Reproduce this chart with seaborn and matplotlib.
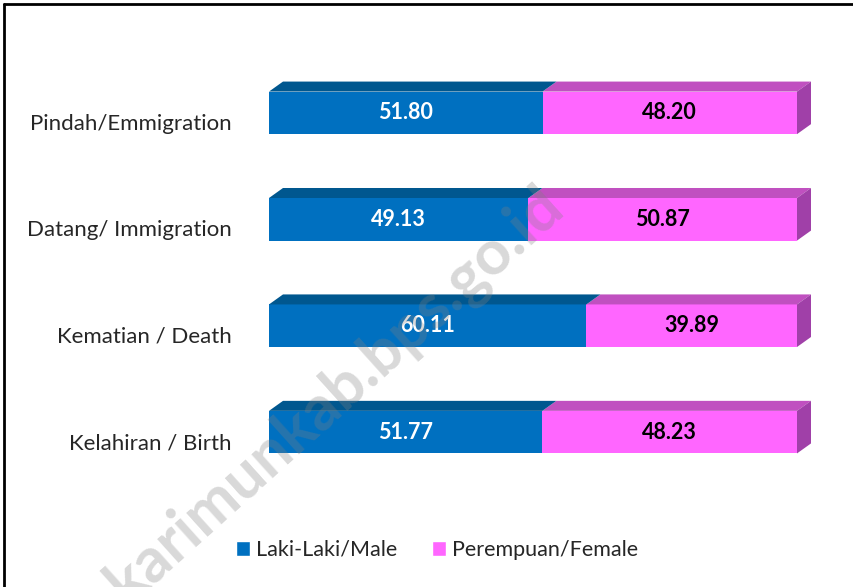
import numpy as np
import pandas as pd
import matplotlib.pyplot as plt
import seaborn as sns
from matplotlib.patches import Polygon, Patch
from matplotlib.transforms import ScaledTranslation

sns.set_style('white')
plt.rcParams['font.family'] = ['Lato', 'DejaVu Sans']

# data
kategori = ['Pindah/Emmigration', 'Datang/ Immigration', 'Kematian / Death', 'Kelahiran / Birth']
laki = [51.80, 49.13, 60.11, 51.77]
perempuan = [48.20, 50.87, 39.89, 48.23]
seri = ['Laki-Laki/Male', 'Perempuan/Female']

biru = '#0070C0'
biru_atas = '#00578F'
pink = '#FF66FF'
pink_atas = '#C050C0'
pink_samping = '#A040A8'

df = pd.DataFrame({'kategori': kategori, 'laki': laki, 'perempuan': perempuan})
df['total'] = df['laki'] + df['perempuan']

fig = plt.figure(figsize=(8.54, 5.87), dpi=100)
ax = fig.add_axes([269/854, (587-496)/587, 528/854, 447/587])

# layer belakang (total) lalu laki-laki di depan
sns.barplot(data=df, x='total', y='kategori', color=pink, orient='h', width=0.4,
            saturation=1, linewidth=0, ax=ax)
p_total = list(ax.patches)
sns.barplot(data=df, x='laki', y='kategori', color=biru, orient='h', width=0.4,
            saturation=1, linewidth=0, ax=ax)
p_laki = [p for p in ax.patches if p not in p_total]

ax.set_xlim(0, 100)
ax.set_ylim(3.6, -0.6)

# efek 3D
dx = 14 / 5.28      # kedalaman dalam satuan persen
dy = 10 / 106.4     # kedalaman dalam satuan kategori
for pt, pl in zip(p_total, p_laki):
    y0 = pt.get_y()
    h = pt.get_height()
    xm = pl.get_width()
    xe = pt.get_width()
    # sisi atas pink
    ax.add_patch(Polygon([(xm, y0), (xe, y0), (xe + dx, y0 - dy), (xm + dx, y0 - dy)],
                         closed=True, facecolor=pink_atas, edgecolor='none', zorder=2, clip_on=False))
    # sisi kanan pink
    ax.add_patch(Polygon([(xe, y0 + h), (xe, y0), (xe + dx, y0 - dy), (xe + dx, y0 + h - dy)],
                         closed=True, facecolor=pink_samping, edgecolor='none', zorder=2, clip_on=False))
    # sisi atas biru
    ax.add_patch(Polygon([(0, y0), (xm, y0), (xm + dx, y0 - dy), (dx, y0 - dy)],
                         closed=True, facecolor=biru_atas, edgecolor='none', zorder=2, clip_on=False))
    yc = y0 + h / 2
    ax.text(xm / 2, yc, f'{xm:.2f}', ha='center', va='center', color='white',
            fontsize=15.5, fontweight='bold', zorder=3)
    ax.text((xm + xe) / 2, yc, f'{xe - xm:.2f}', ha='center', va='center', color='black',
            fontsize=15.5, fontweight='bold', zorder=3)

ax.set_xlabel('')
ax.set_ylabel('')
ax.set_xticks([])
ax.tick_params(axis='y', length=0, pad=27, labelsize=16)
geser = ScaledTranslation(0, -9/100, fig.dpi_scale_trans)
for lbl in ax.get_yticklabels():
    lbl.set_transform(lbl.get_transform() + geser)
sns.despine(ax=ax, left=True, bottom=True)

handles = [Patch(facecolor=biru, label=seri[0]), Patch(facecolor=pink, label=seri[1])]
fig.legend(handles=handles, loc='center', bbox_to_anchor=(437/854, 1 - 550/587), ncol=2,
           frameon=False, fontsize=15.5, handlelength=0.65, handleheight=0.65,
           handletextpad=0.3, columnspacing=1.6)

# watermark (terpotong di kiri bawah seperti aslinya)
fig.text(335/854, 1 - 395/587, 'karimunkab.bps.go.id', rotation=42, rotation_mode='anchor',
         ha='center', va='center', fontsize=45, fontweight='bold', color='gray',
         alpha=0.3, zorder=10)

# bingkai
fig.add_artist(plt.Line2D([4/854, 4/854], [0, 1 - 4/587], transform=fig.transFigure,
                          color='black', linewidth=2))
fig.add_artist(plt.Line2D([4/854, 1], [1 - 4/587, 1 - 4/587], transform=fig.transFigure,
                          color='black', linewidth=2))

fig.savefig('out.png', dpi=100)
